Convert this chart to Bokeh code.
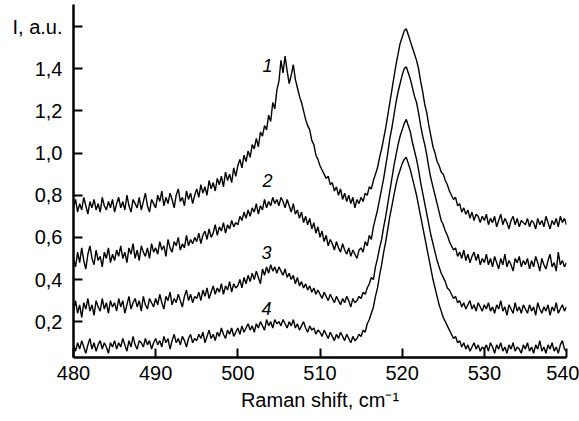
import numpy as np
from bokeh.plotting import figure
from bokeh.models import Range1d, FixedTicker, CustomJSTickFormatter, Label
from bokeh.embed import file_html
from bokeh.resources import INLINE

# Raman shift grid start/step (cm^-1)
x_start = 480.0
x_step = 0.25

curve1 = [
    0.74,0.78,0.72,0.76,0.73,0.79,0.75,0.71,0.77,0.74,0.78,0.73,0.76,0.72,0.79,0.75,0.73,0.77,0.74,0.78,
    0.72,0.76,0.79,0.74,0.77,0.73,0.80,0.75,0.72,0.78,0.76,0.74,0.79,0.73,0.77,0.81,0.75,0.72,0.78,0.76,
    0.74,0.80,0.77,0.82,0.75,0.79,0.76,0.81,0.78,0.74,0.80,0.83,0.77,0.79,0.75,0.82,0.78,0.81,0.76,0.80,
    0.83,0.79,0.85,0.81,0.84,0.80,0.87,0.83,0.86,0.82,0.88,0.85,0.89,0.84,0.91,0.87,0.90,0.86,0.93,0.89,
    0.94,0.97,0.93,0.99,0.96,1.01,0.98,1.04,1.02,1.07,1.03,1.10,1.08,1.13,1.11,1.18,1.15,1.24,1.21,1.30,
    1.34,1.44,1.38,1.46,1.39,1.33,1.37,1.42,1.35,1.31,1.27,1.24,1.20,1.16,1.13,1.11,1.06,1.04,0.99,0.97,
    0.94,0.92,0.90,0.88,0.89,0.85,0.86,0.82,0.84,0.80,0.83,0.78,0.81,0.77,0.80,0.76,0.79,0.74,0.78,0.76,
    0.79,0.77,0.81,0.80,0.84,0.83,0.87,0.90,0.93,0.98,1.02,1.07,1.12,1.18,1.24,1.30,1.36,1.42,1.47,1.52,
    1.55,1.58,1.59,1.56,1.53,1.50,1.47,1.44,1.40,1.34,1.29,1.23,1.19,1.13,1.08,1.03,1.00,0.96,0.94,0.91,
    0.90,0.87,0.85,0.82,0.80,0.78,0.79,0.75,0.76,0.72,0.74,0.71,0.73,0.69,0.72,0.68,0.71,0.70,0.67,0.70,
    0.68,0.71,0.66,0.69,0.67,0.70,0.65,0.68,0.71,0.66,0.69,0.67,0.64,0.68,0.70,0.66,0.69,0.65,0.68,0.67,
    0.66,0.69,0.65,0.68,0.67,0.64,0.69,0.66,0.68,0.65,0.70,0.67,0.64,0.68,0.66,0.69,0.65,0.70,0.67,0.69,
    0.66,
]

curve2 = [
    0.50,0.46,0.53,0.48,0.55,0.49,0.45,0.52,0.56,0.50,0.47,0.54,0.49,0.51,0.46,0.53,0.50,0.55,0.48,0.52,
    0.49,0.54,0.51,0.56,0.50,0.53,0.48,0.55,0.52,0.57,0.50,0.54,0.49,0.56,0.53,0.51,0.55,0.50,0.57,0.53,
    0.55,0.52,0.58,0.54,0.56,0.51,0.59,0.55,0.53,0.58,0.56,0.60,0.54,0.57,0.55,0.61,0.56,0.59,0.57,0.60,
    0.58,0.62,0.57,0.61,0.63,0.59,0.64,0.60,0.62,0.66,0.61,0.65,0.63,0.67,0.62,0.66,0.64,0.68,0.65,0.67,
    0.66,0.70,0.68,0.72,0.69,0.73,0.70,0.74,0.72,0.76,0.71,0.75,0.73,0.78,0.74,0.77,0.75,0.79,0.76,0.78,
    0.75,0.79,0.77,0.74,0.78,0.75,0.72,0.76,0.71,0.73,0.69,0.72,0.67,0.70,0.66,0.69,0.64,0.67,0.62,0.65,
    0.60,0.63,0.58,0.61,0.56,0.59,0.57,0.54,0.58,0.55,0.53,0.57,0.54,0.52,0.55,0.51,0.54,0.52,0.50,0.54,
    0.55,0.53,0.58,0.56,0.61,0.59,0.65,0.69,0.73,0.78,0.83,0.88,0.94,1.00,1.07,1.12,1.18,1.24,1.29,1.33,
    1.37,1.40,1.41,1.38,1.35,1.31,1.27,1.24,1.19,1.13,1.08,1.04,0.99,0.93,0.88,0.84,0.80,0.76,0.72,0.68,
    0.66,0.63,0.61,0.58,0.56,0.54,0.55,0.51,0.53,0.50,0.54,0.49,0.52,0.48,0.51,0.53,0.49,0.52,0.47,0.50,
    0.48,0.52,0.47,0.50,0.46,0.51,0.48,0.45,0.50,0.47,0.52,0.46,0.49,0.47,0.44,0.50,0.48,0.51,0.46,0.49,
    0.47,0.50,0.45,0.49,0.46,0.51,0.48,0.44,0.50,0.47,0.45,0.49,0.52,0.46,0.48,0.44,0.53,0.47,0.49,0.46,
    0.48,
]

curve3 = [
    0.25,0.30,0.24,0.28,0.22,0.29,0.26,0.31,0.25,0.28,0.23,0.30,0.27,0.25,0.31,0.26,0.29,0.24,0.30,0.27,
    0.29,0.25,0.31,0.27,0.30,0.24,0.28,0.32,0.26,0.29,0.31,0.27,0.30,0.25,0.32,0.28,0.26,0.31,0.29,0.27,
    0.31,0.28,0.33,0.29,0.26,0.32,0.30,0.34,0.28,0.31,0.29,0.33,0.30,0.27,0.32,0.35,0.30,0.33,0.29,0.32,
    0.31,0.34,0.30,0.35,0.32,0.36,0.31,0.34,0.37,0.33,0.36,0.34,0.38,0.33,0.37,0.35,0.39,0.34,0.38,0.36,
    0.37,0.40,0.36,0.41,0.38,0.42,0.39,0.43,0.40,0.44,0.41,0.38,0.45,0.42,0.46,0.43,0.47,0.44,0.46,0.43,
    0.46,0.44,0.42,0.45,0.41,0.43,0.40,0.42,0.38,0.41,0.37,0.39,0.36,0.38,0.35,0.37,0.34,0.36,0.33,0.35,
    0.33,0.31,0.34,0.32,0.30,0.33,0.31,0.29,0.32,0.30,0.28,0.31,0.29,0.32,0.30,0.27,0.31,0.29,0.30,0.32,
    0.31,0.34,0.33,0.36,0.38,0.41,0.40,0.46,0.50,0.55,0.59,0.65,0.70,0.76,0.82,0.88,0.94,0.99,1.04,1.08,
    1.11,1.14,1.16,1.13,1.10,1.05,1.01,0.97,0.92,0.86,0.81,0.76,0.71,0.66,0.61,0.57,0.53,0.49,0.46,0.43,
    0.41,0.39,0.36,0.35,0.33,0.31,0.32,0.29,0.30,0.27,0.29,0.26,0.28,0.30,0.26,0.28,0.25,0.29,0.27,0.25,
    0.28,0.26,0.29,0.25,0.27,0.24,0.28,0.26,0.30,0.25,0.27,0.23,0.28,0.26,0.24,0.29,0.25,0.27,0.24,0.28,
    0.26,0.24,0.28,0.25,0.27,0.23,0.29,0.26,0.24,0.27,0.25,0.28,0.23,0.27,0.25,0.29,0.24,0.26,0.28,0.25,
    0.27,
]

curve4 = [
    0.09,0.06,0.10,0.07,0.11,0.08,0.05,0.09,0.12,0.07,0.10,0.06,0.09,0.11,0.07,0.10,0.08,0.05,0.10,0.08,
    0.11,0.07,0.10,0.08,0.12,0.09,0.06,0.11,0.08,0.13,0.09,0.07,0.11,0.10,0.08,0.12,0.09,0.11,0.07,0.10,
    0.12,0.09,0.11,0.08,0.13,0.10,0.12,0.07,0.11,0.14,0.10,0.12,0.09,0.13,0.11,0.08,0.12,0.14,0.10,0.12,
    0.11,0.14,0.12,0.15,0.10,0.13,0.16,0.12,0.14,0.11,0.15,0.13,0.17,0.14,0.12,0.16,0.14,0.17,0.13,0.15,
    0.17,0.14,0.18,0.15,0.17,0.19,0.16,0.18,0.15,0.19,0.17,0.20,0.18,0.16,0.21,0.18,0.20,0.17,0.21,0.19,
    0.20,0.18,0.21,0.19,0.17,0.20,0.18,0.21,0.17,0.19,0.16,0.18,0.20,0.17,0.15,0.18,0.16,0.17,0.14,0.16,
    0.15,0.13,0.16,0.14,0.12,0.15,0.13,0.11,0.14,0.12,0.15,0.13,0.11,0.14,0.12,0.10,0.13,0.11,0.12,0.14,
    0.13,0.16,0.15,0.19,0.21,0.24,0.27,0.32,0.36,0.42,0.47,0.53,0.58,0.64,0.70,0.75,0.80,0.85,0.89,0.92,
    0.95,0.97,0.98,0.95,0.92,0.88,0.84,0.80,0.75,0.70,0.65,0.60,0.55,0.50,0.45,0.40,0.36,0.32,0.28,0.25,
    0.22,0.20,0.18,0.16,0.14,0.12,0.13,0.10,0.11,0.08,0.10,0.07,0.09,0.06,0.08,0.10,0.07,0.09,0.06,0.08,
    0.07,0.09,0.06,0.10,0.08,0.05,0.09,0.07,0.10,0.06,0.08,0.05,0.09,0.07,0.10,0.06,0.08,0.07,0.05,0.09,
    0.07,0.10,0.06,0.08,0.05,0.09,0.07,0.11,0.06,0.08,0.05,0.09,0.07,0.10,0.06,0.08,0.05,0.09,0.11,0.07,
    0.06,
]

curve_names = ["1", "2", "3", "4"]
name_x = [503.6, 503.6, 503.5, 503.5]
name_y = [1.415, 0.869, 0.528, 0.262]

x_ticks = [480, 490, 500, 510, 520, 530, 540]
y_ticks = [0.2, 0.4, 0.6, 0.8, 1.0, 1.2, 1.4, 1.6]
y_title = "I, a.u."
x_title = "Raman shift, cm\u207b\u00b9"

FONT = "Liberation Sans"

p = figure(width=579, height=421, output_backend="svg", toolbar_location=None,
           x_range=Range1d(480, 540), y_range=Range1d(0.03, 1.705),
           min_border_left=73, min_border_right=13, min_border_top=4, min_border_bottom=64)
p.outline_line_color = None
p.xgrid.visible = False
p.ygrid.visible = False
p.background_fill_color = "white"
p.border_fill_color = "white"

for ys in [curve1, curve2, curve3, curve4]:
    xs = x_start + x_step * np.arange(len(ys))
    p.line(xs, ys, line_color="black", line_width=1.4)

for ax in (p.xaxis[0], p.yaxis[0]):
    ax.axis_line_width = 2.5
    ax.axis_line_color = "black"
    ax.major_tick_in = 9
    ax.major_tick_out = 0
    ax.major_tick_line_width = 2
    ax.minor_tick_line_color = None
    ax.major_label_text_font = FONT
    ax.major_label_text_font_size = "20px"
    ax.major_label_text_color = "black"

p.xaxis.ticker = FixedTicker(ticks=x_ticks)
p.xaxis.major_label_standoff = 8
p.xaxis.axis_label = x_title
p.xaxis.axis_label_text_font = FONT
p.xaxis.axis_label_text_font_size = "20px"
p.xaxis.axis_label_text_font_style = "normal"
p.xaxis.axis_label_text_color = "black"
p.xaxis.axis_label_standoff = 6

p.yaxis.ticker = FixedTicker(ticks=y_ticks)
p.yaxis.major_label_standoff = 11
p.yaxis.formatter = CustomJSTickFormatter(args=dict(title=y_title), code="""
    if (Math.abs(tick - 1.6) < 1e-6) { return title; }
    return tick.toFixed(1).replace('.', ',');
""")

for t, xx, yy in zip(curve_names, name_x, name_y):
    p.add_layout(Label(x=xx, y=yy, text=t, text_align="center", text_baseline="middle",
                       text_font=FONT, text_font_size="18px", text_font_style="italic",
                       text_color="black"))

open("out.html", "w").write(file_html(p, INLINE))
